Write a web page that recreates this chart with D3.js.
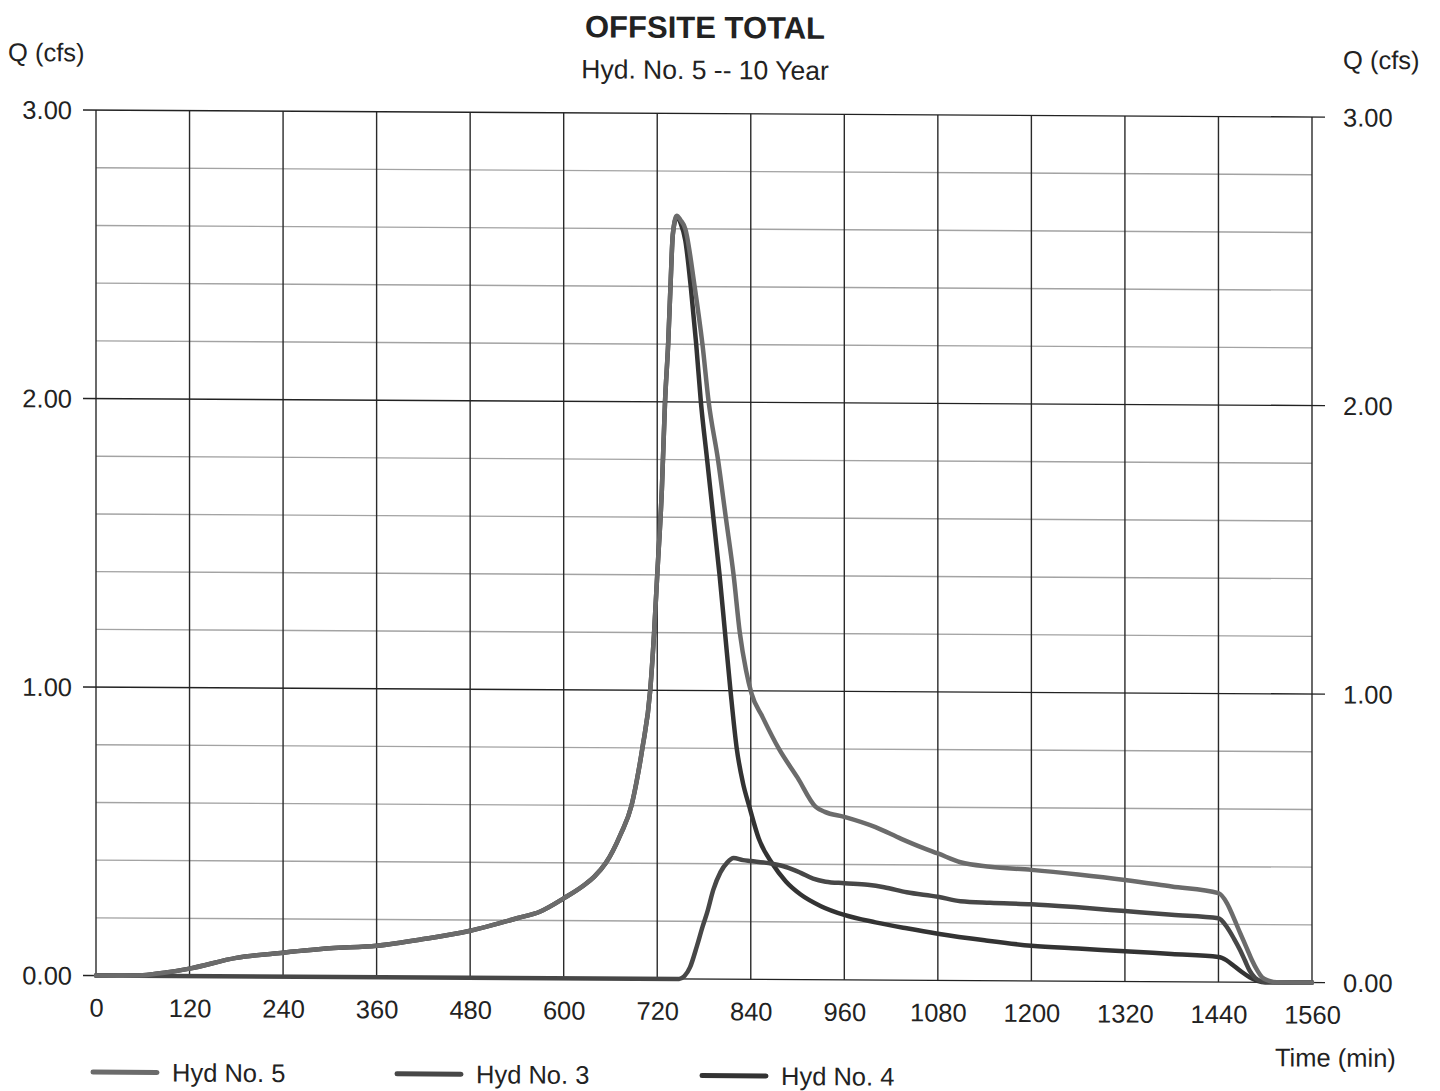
<!DOCTYPE html>
<html>
<head>
<meta charset="utf-8">
<script src="https://cdn.jsdelivr.net/npm/d3@7/dist/d3.min.js"></script>
<style>
  html, body { margin: 0; padding: 0; background: #ffffff; }
  svg { display: block; }
  text { font-family: "Liberation Sans", Arial, sans-serif; fill: #222; }
</style>
</head>
<body>
<svg id="chart" width="1440" height="1091"></svg>
<script>
// Hydrograph ordinates: [time (min), Q (cfs)]
const hyd5 = [
  [0,0],[30,0],[60,0.002],[90,0.012],[120,0.026],[180,0.064],[240,0.083],[300,0.099],
  [360,0.109],[420,0.133],[480,0.163],[540,0.207],[570,0.231],[600,0.277],[626,0.323],
  [639,0.352],[654,0.4],[673,0.5],[687,0.6],[694,0.69],[701,0.8],[711,1.0],[716,1.2],
  [720,1.4],[726,1.7],[730,2.0],[734,2.2],[737,2.4],[740,2.58],[745,2.645],[750,2.63],
  [756,2.6],[768,2.4],[778,2.2],[786,2.0],[798,1.8],[808,1.6],[818,1.4],[826,1.2],
  [834,1.07],[841,0.99],[855,0.91],[876,0.8],[900,0.7],[923,0.6],[935,0.582],[960,0.565],
  [1000,0.53],[1033,0.49],[1060,0.46],[1080,0.44],[1109,0.41],[1147,0.395],
  [1200,0.385],[1260,0.37],[1320,0.352],[1380,0.33],[1440,0.308],[1451,0.273],
  [1460,0.22],[1468,0.169],[1476,0.12],[1483,0.076],[1490,0.04],[1496,0.017],
  [1505,0.005],[1515,0],[1560,0]
];

const hyd3 = [
  [0,0],[748,0],[755,0.01],[762,0.04],[771,0.115],[778,0.18],[784,0.23],[792,0.31],
  [801,0.37],[810,0.405],[818,0.42],[830,0.413],[840,0.41],[869,0.4],[885,0.39],
  [904,0.37],[920,0.35],[936,0.34],[960,0.335],[990,0.33],[1011,0.322],[1040,0.305],
  [1080,0.29],[1109,0.275],[1147,0.27],[1200,0.266],[1260,0.256],[1320,0.244],
  [1380,0.232],[1440,0.221],[1451,0.19],[1460,0.15],[1468,0.11],[1474,0.075],
  [1480,0.04],[1487,0.015],[1493,0.005],[1500,0],[1560,0]
];

const hyd4 = [
  [0,0],[30,0],[60,0.002],[90,0.012],[120,0.026],[180,0.064],[240,0.083],[300,0.099],
  [360,0.109],[420,0.133],[480,0.163],[540,0.207],[570,0.231],[600,0.277],[626,0.323],
  [639,0.352],[654,0.4],[673,0.5],[687,0.6],[694,0.69],[701,0.8],[711,1.0],[716,1.2],
  [720,1.4],[726,1.7],[730,2.0],[734,2.2],[737,2.4],[740,2.58],[745,2.64],[750,2.62],
  [756,2.56],[763,2.4],[770,2.2],[776,2.0],[784,1.8],[792,1.6],[800,1.4],[807,1.2],
  [814,1.0],[822,0.8],[830,0.68],[838,0.6],[850,0.49],[868,0.4],[885,0.34],[904,0.295],
  [930,0.255],[960,0.225],[1000,0.2],[1040,0.18],[1080,0.162],[1140,0.14],[1200,0.122],
  [1260,0.113],[1320,0.105],[1380,0.096],[1440,0.087],[1450,0.076],[1460,0.056],
  [1470,0.035],[1480,0.017],[1490,0.005],[1500,0],[1560,0]
];

const timeTicks = [0,120,240,360,480,600,720,840,960,1080,1200,1320,1440,1560];
const flowTicks = [0,1,2,3];
const flowMinor = [0.2,0.4,0.6,0.8,1.2,1.4,1.6,1.8,2.2,2.4,2.6,2.8];

const seriesNames = ["Hyd No. 5","Hyd No. 3","Hyd No. 4"];
const seriesColors = ["#6b6b6b","#474747","#333333"];

const titleText = "OFFSITE TOTAL";
const subtitleText = "Hyd. No. 5 -- 10 Year";

// ---- layout ----
const L = 96, R = 1312, T = 109.5, B = 975;
const x = d3.scaleLinear().domain([0,1560]).range([L,R]);
const y = d3.scaleLinear().domain([0,3]).range([B,T]);

const svg = d3.select("#chart");
svg.append("rect").attr("width",1440).attr("height",1091).attr("fill","#fff");

// the printed sheet sits a little askew
const g = svg.append("g").attr("transform","skewY(0.33)");

// minor horizontal grid
g.append("g").selectAll("line").data(flowMinor).join("line")
  .attr("x1",L).attr("x2",R)
  .attr("y1",d=>y(d)).attr("y2",d=>y(d))
  .attr("stroke","#a3a3a3").attr("stroke-width",1.4);

// vertical grid
g.append("g").selectAll("line").data(timeTicks).join("line")
  .attr("x1",d=>x(d)).attr("x2",d=>x(d))
  .attr("y1",T).attr("y2",B)
  .attr("stroke","#2a2a2a").attr("stroke-width",1.4);

// major horizontal grid, extended past the frame as ticks
g.append("g").selectAll("line").data(flowTicks).join("line")
  .attr("x1",L-13).attr("x2",R+13)
  .attr("y1",d=>y(d)).attr("y2",d=>y(d))
  .attr("stroke","#222").attr("stroke-width",1.4);

// axes (labels only; lines drawn above)
const fmt = d3.format(".2f");
const fs = 25.5;

const axL = g.append("g").attr("transform",`translate(${L},0)`)
  .call(d3.axisLeft(y).tickValues(flowTicks).tickFormat(fmt).tickSize(0).tickPadding(24));
const axR = g.append("g").attr("transform",`translate(${R},0)`)
  .call(d3.axisRight(y).tickValues(flowTicks).tickFormat(fmt).tickSize(0).tickPadding(31));
const axB = g.append("g").attr("transform",`translate(0,${B})`)
  .call(d3.axisBottom(x).tickValues(timeTicks).tickFormat(d3.format("d")).tickSize(0).tickPadding(23));

[axL,axR,axB].forEach(a => {
  a.select(".domain").remove();
  a.selectAll("text").attr("font-size",fs).attr("font-family","'Liberation Sans', Arial, sans-serif").attr("fill","#222");
});
axL.selectAll("text").attr("dy","0.34em");
axR.selectAll("text").attr("dy","0.34em");

// hydrographs
const line = d3.line().x(d=>x(d[0])).y(d=>y(d[1])).curve(d3.curveMonotoneX);
const order = [[hyd4,2],[hyd3,1],[hyd5,0]];
order.forEach(([data,i]) => {
  g.append("path").datum(data)
    .attr("fill","none")
    .attr("stroke",seriesColors[i])
    .attr("stroke-width",4.5)
    .attr("stroke-linejoin","round")
    .attr("stroke-linecap","round")
    .attr("d",line);
});

// titles and axis captions
g.append("text").attr("x",705).attr("y",34).attr("text-anchor","middle")
  .attr("font-size",31).attr("font-weight","bold").text(titleText);
g.append("text").attr("x",705).attr("y",75).attr("text-anchor","middle")
  .attr("font-size",26.5).text(subtitleText);
g.append("text").attr("x",8).attr("y",61).attr("font-size",fs).text("Q (cfs)");
g.append("text").attr("x",1343).attr("y",61).attr("font-size",fs).text("Q (cfs)");
g.append("text").attr("x",1275).attr("y",1059).attr("font-size",fs).text("Time (min)");

// legend
const legX = [93,397,702];
const leg = g.append("g").selectAll("g").data(seriesNames).join("g")
  .attr("transform",(d,i)=>`translate(${legX[i]},1071.5)`);
leg.append("line").attr("x1",0).attr("x2",64).attr("y1",0).attr("y2",0)
  .attr("stroke",(d,i)=>seriesColors[i]).attr("stroke-width",5).attr("stroke-linecap","round");
leg.append("text").attr("x",79).attr("y",9).attr("font-size",fs).text(d=>d);
</script>
</body>
</html>
